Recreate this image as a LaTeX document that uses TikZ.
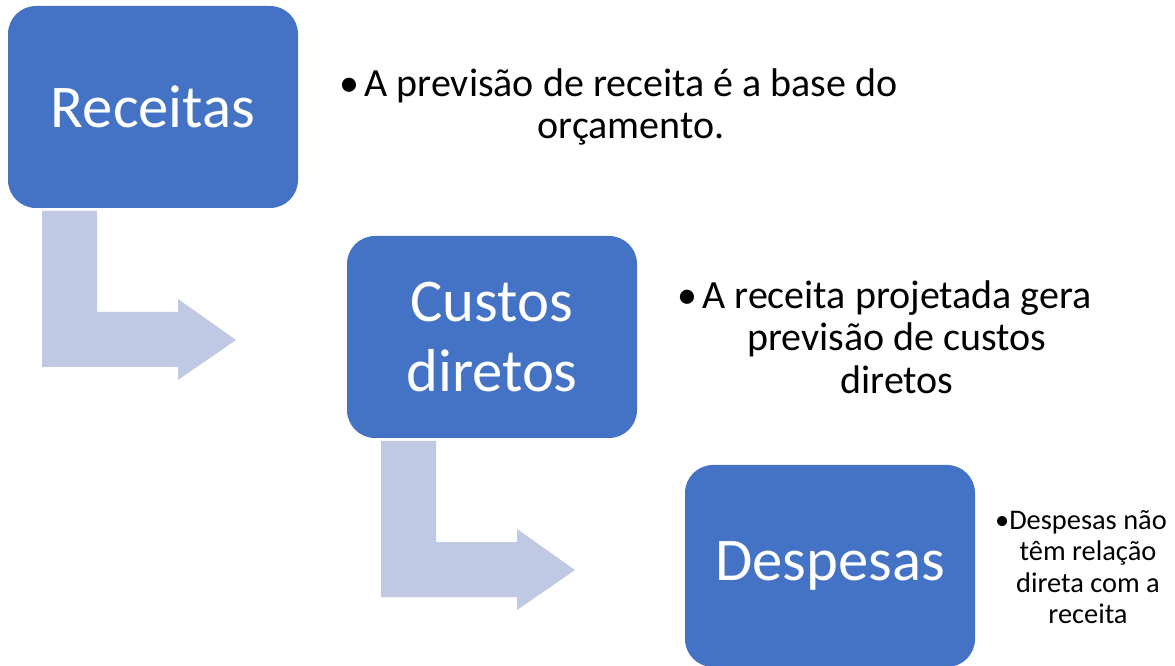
\documentclass[tikz,border=0pt]{standalone}
\usepackage{fontspec}
\setmainfont{Carlito}
\definecolor{boxblue}{RGB}{68,114,196}
\definecolor{bendblue}{RGB}{192,201,228}

\begin{document}
\begin{tikzpicture}[x=0.75pt,y=-0.75pt,
    step box/.style={rectangle,rounded corners=21pt,fill=boxblue,text=white,
      minimum width=217.5pt,minimum height=151.5pt,align=center,
      font=\fontsize{45.5}{52}\selectfont},
    note/.style={align=center,text=black,font=\fontsize{30}{32}\selectfont},
    small note/.style={align=center,text=black,font=\fontsize{21.3}{23.6}\selectfont},
    bend arrow/.style={fill=bendblue}]
    \useasboundingbox (0,0) rectangle (1175,666);
    % bent arrows between the boxes
    \foreach \dx/\dy in {0/0,339/230}
      \fill[bend arrow,shift={(\dx,\dy)}] (42,211) -- (97,211) -- (97,312)
        -- (178,312) -- (178,299) -- (236,340) -- (178,380) -- (178,367)
        -- (42,367) -- cycle;
    \node[step box] (rec) at (153,107) {Receitas};
    \node[step box] (cus) at (492,337) {Custos\\diretos};
    \node[step box] (des) at (830,566) {Despesas};
    \node[note] (recnote) at (631,107) {\llap{•\hspace{4pt}}A previsão de receita é a base do\\orçamento.};
    \node[note] (cusnote) at (897,337) {\llap{•\hspace{4pt}}A receita projetada gera\\previsão de custos\\diretos};
    \node[small note] (desnote) at (1088,567) {\llap{•}Despesas não\\têm relação\\direta com a\\receita};
\end{tikzpicture}
\end{document}
